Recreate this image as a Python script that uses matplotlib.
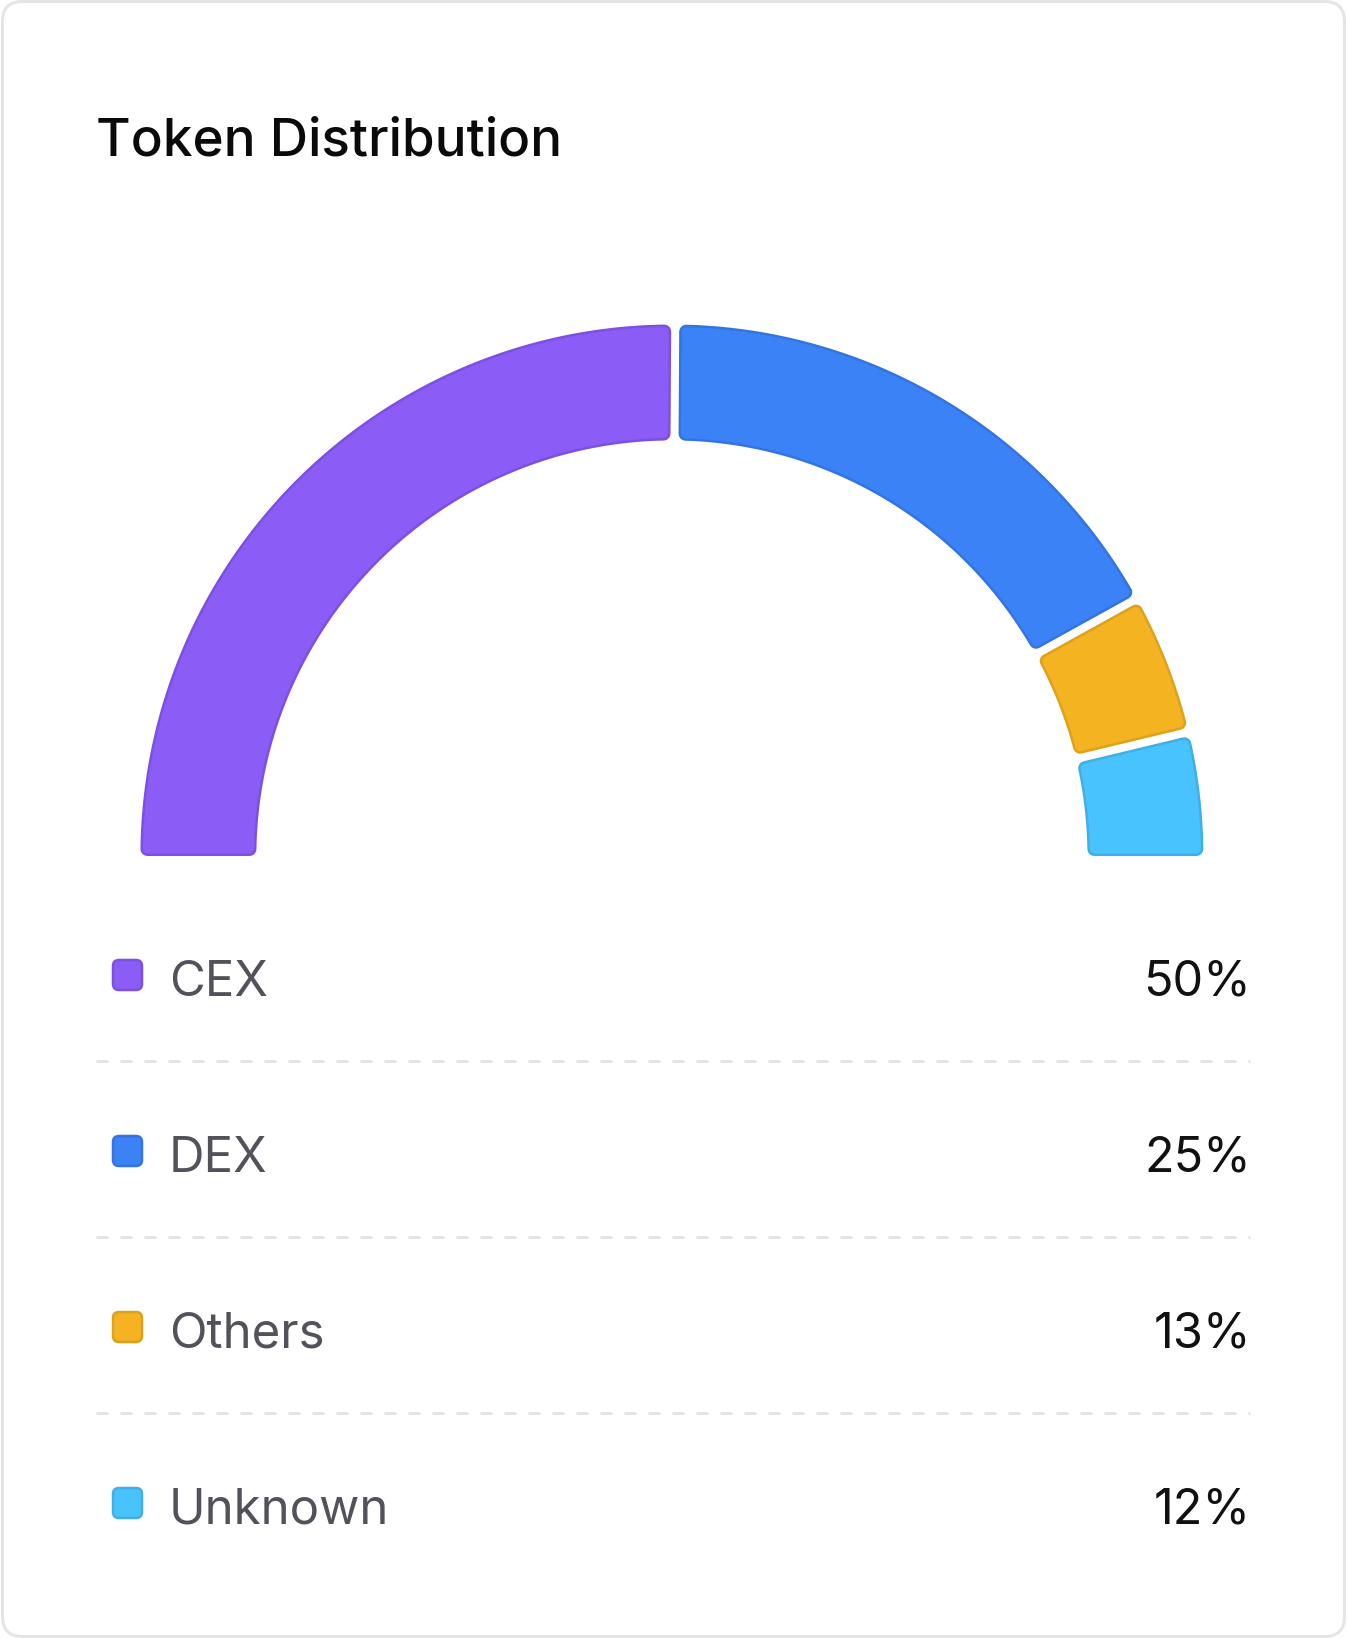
import numpy as np
import matplotlib
matplotlib.use("Agg")
import matplotlib.pyplot as plt
from matplotlib.patches import Polygon, FancyBboxPatch

plt.rcParams['font.family'] = ['Inter', 'DejaVu Sans']

# data
title = "Token Distribution"
categories = ["CEX", "DEX", "Others", "Unknown"]
pct_labels = [50, 25, 13, 12]
# share of the half ring each slice takes, as read from the drawn arcs
arc_share = [50.2, 33.7, 8.6, 7.5]
fill_colors = ["#8B5CF6", "#3B82F6", "#F4B321", "#49C3FE"]
edge_colors = ["#7B50E2", "#3474E2", "#DFA11C", "#3FAFE6"]

W, H = 1347, 1640
PT = 0.72  # points per pixel at dpi 100

fig = plt.figure(figsize=(W / 100, H / 100), dpi=100)
ax = fig.add_axes([0, 0, 1, 1])
ax.set_xlim(0, W)
ax.set_ylim(H, 0)
ax.axis("off")

# card
card = FancyBboxPatch((2.5, 2.5), W - 5, H - 5,
                      boxstyle="round,pad=0,rounding_size=20",
                      facecolor="white", edgecolor="#E5E5E5", linewidth=3 * PT)
ax.add_patch(card)

ax.text(96, 156, title, fontsize=38.2, fontweight="medium", color="#0A0A0A",
        ha="left", va="baseline")

# half ring
cx, cy = 671.9, 857
R_out, R_in = 531.5, 415.5
gap = 8.0
corner = 7.0
border = 2.5


def ring_piece(t0, t1, s0, s1, d):
    # t0 > t1 in degrees, s0/s1 side offsets (px), d inset (px)
    ro, ri = R_out - d, R_in + d
    pts = []
    for rho, rev in ((ro, False), (ri, True)):
        a0 = np.radians(t0) - np.arcsin((s0 + d) / rho)
        a1 = np.radians(t1) + np.arcsin((s1 + d) / rho)
        aa = np.linspace(a0, a1, 120)
        if rev:
            aa = aa[::-1]
        pts += [(cx + rho * np.cos(a), cy - rho * np.sin(a)) for a in aa]
    return pts


bounds = 180 - np.concatenate([[0], np.cumsum(arc_share)]) * 180.0 / sum(arc_share)
n = len(categories)
for i in range(n):
    t0, t1 = bounds[i], bounds[i + 1]
    s0 = 0 if i == 0 else gap / 2
    s1 = 0 if i == n - 1 else gap / 2
    pts = ring_piece(t0, t1, s0, s1, corner)
    ax.add_patch(Polygon(pts, closed=True, facecolor=edge_colors[i],
                         edgecolor=edge_colors[i], linewidth=2 * corner * PT,
                         joinstyle="round"))
    ax.add_patch(Polygon(pts, closed=True, facecolor=fill_colors[i],
                         edgecolor=fill_colors[i],
                         linewidth=2 * (corner - border) * PT, joinstyle="round"))

# legend rows
row0, step = 976, 176
for i, name in enumerate(categories):
    yc = row0 + i * step
    sq = FancyBboxPatch((113, yc - 15), 29, 30,
                        boxstyle="round,pad=0,rounding_size=6",
                        facecolor=fill_colors[i], edgecolor=edge_colors[i],
                        linewidth=2.5 * PT)
    ax.add_patch(sq)
    ax.text(169, yc + 20, name, fontsize=35.4, color="#52525B",
            ha="left", va="baseline")
    ax.text(1251, yc + 20, f"{pct_labels[i]}%", fontsize=35, color="#111111",
            ha="right", va="baseline")
    if i < n - 1:
        ax.plot([96, 1250], [yc + 86, yc + 86], color="#E5E5E5",
                linewidth=3 * PT, linestyle=(0, (4, 4)), solid_capstyle="butt",
                dash_capstyle="butt")

fig.savefig("out.png", dpi=100)
